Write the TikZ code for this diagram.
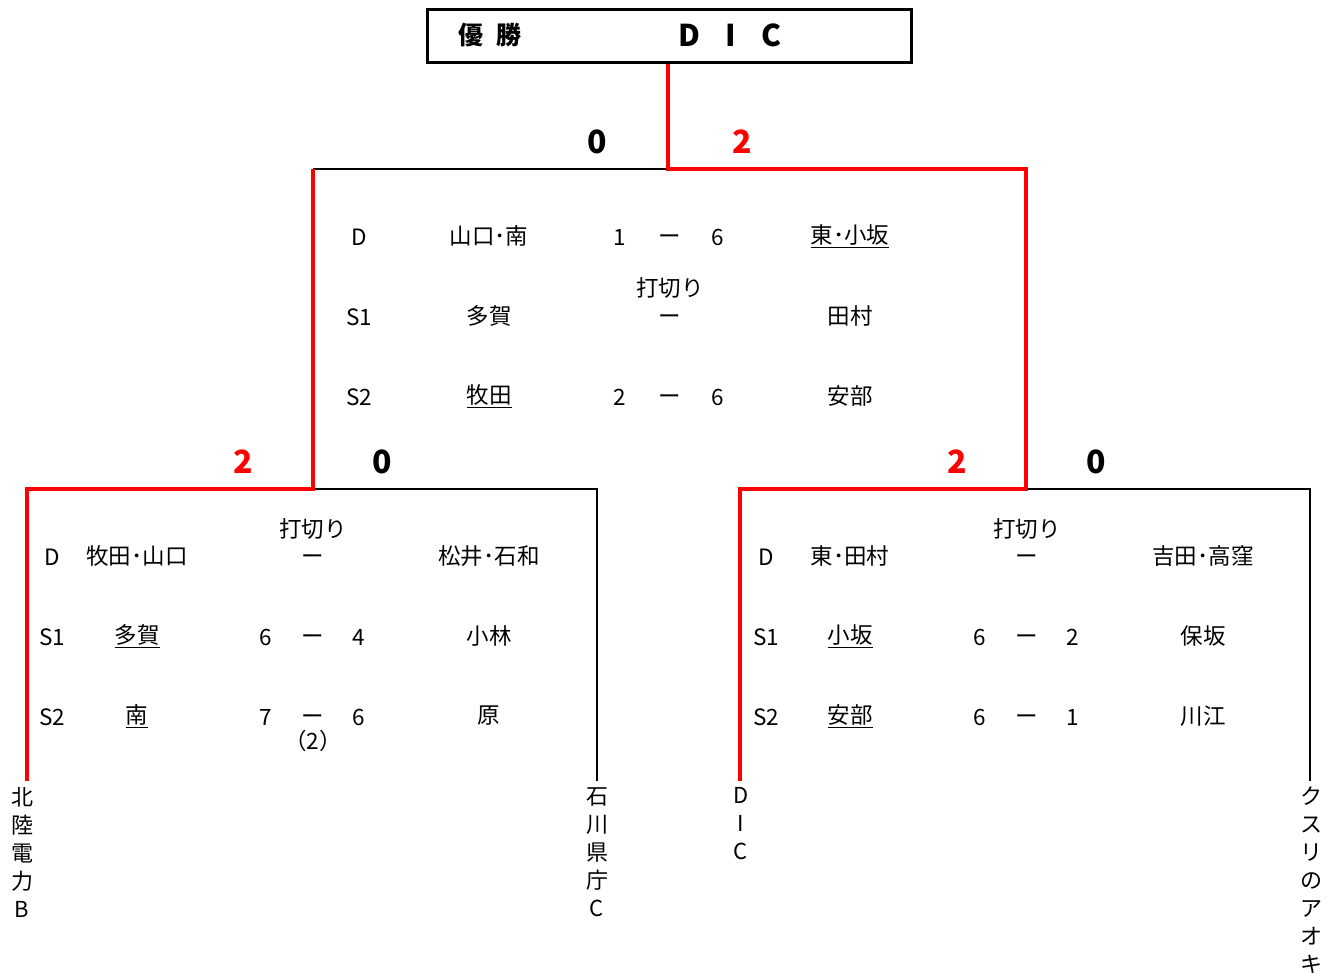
\documentclass[tikz,border=0pt]{standalone}
\usepackage{fontspec}
\setmainfont{Noto Sans CJK JP}
\begin{document}
\begin{tikzpicture}[x=1pt,y=-1pt,
	win/.style={red, line width=4pt},
	lose/.style={black, line width=1.3pt},
	nm/.style={font=\fontsize{22.5}{22.5}\selectfont, inner sep=0pt},
	bar/.style={nm, yshift=-4pt},
	sc/.style={font=\fontsize{32}{32}\selectfont\bfseries, inner sep=0pt},
	team/.style={font=\fontsize{22}{28}\selectfont, align=center, inner sep=0pt, anchor=north}]
	\useasboundingbox (0,0) rectangle (1341,977);

	% champion box
	\draw (669, 35.5) 	node[draw, line width=3pt, minimum width=484pt, minimum height=53pt, inner sep=0pt] 	(champ) 	{};
	\draw (490, 35) 	node[nm, font=\fontsize{25}{25}\selectfont\bfseries] 	(yusho) 	{優\hspace{0.5em}勝};
	\draw (730, 35) 	node[nm, font=\fontsize{30}{30}\selectfont\bfseries] 	(winner) 	{D\hspace{0.85em}I\hspace{0.85em}C};

	% bracket joints
	\coordinate (f) 	at (668, 169);
	\coordinate (fl) 	at (313, 169);
	\coordinate (fr) 	at (1026, 169);
	\coordinate (sl) 	at (313, 489);
	\coordinate (sla) 	at (27, 489);
	\coordinate (slb) 	at (597, 489);
	\coordinate (sr) 	at (1026, 489);
	\coordinate (sra) 	at (740, 489);
	\coordinate (srb) 	at (1310, 489);

	% teams
	\draw (22, 787) 	node[team] 	(hokuriku) 	{北\\陸\\電\\力\\B};
	\draw (597, 787) 	node[team] 	(ishikawa) 	{石\\川\\県\\庁\\C};
	\draw (741, 787) 	node[team] 	(dic) 		{D\\I\\C};
	\draw (1311, 787) 	node[team] 	(kusuri) 	{ク\\ス\\リ\\の\\ア\\オ\\キ};

	% lines
	\draw[lose] (fl) -- (f);
	\draw[lose] (sl) -- (slb) -- ([yshift=6pt]slb |- ishikawa.north);
	\draw[lose] (sr) -- (srb) -- ([yshift=6pt]srb |- kusuri.north);
	\draw[win] (champ.south -| f) -- (f) -- (fr) -- (sr) -- (sra) -- ([yshift=6pt]sra |- dic.north);
	\draw[win] (fl) -- (sl) -- (sla) -- ([yshift=6pt]sla |- hokuriku.north);

	% scores
	\draw (597, 142) 	node[sc] 		(fsa) 	{0};
	\draw (742, 142) 	node[sc, red] 	(fsb) 	{2};
	\draw (243, 462) 	node[sc, red] 	(lsa) 	{2};
	\draw (382, 462) 	node[sc] 		(lsb) 	{0};
	\draw (957, 462) 	node[sc, red] 	(rsa) 	{2};
	\draw (1096, 462) 	node[sc] 		(rsb) 	{0};

	% final
	\draw (359, 237) 	node[nm] 	(fd) 	{D};
	\draw (489, 236) 	node[nm] 	(fda) 	{山口･南};
	\draw (620, 237) 	node[nm] 	(fdx) 	{1};
	\draw (670, 236) 	node[bar] 	(fdm) 	{ー};
	\draw (718, 237) 	node[nm] 	(fdy) 	{6};
	\draw (850, 236) 	node[nm] 	(fdb) 	{\underline{東･小坂}};
	\draw (359, 317) 	node[nm] 	(fs1) 	{S1};
	\draw (489, 316) 	node[nm] 	(fs1a) 	{多賀};
	\draw (670, 288) 	node[nm] 	(fs1u) 	{打切り};
	\draw (670, 316) 	node[bar] 	(fs1m) 	{ー};
	\draw (850, 316) 	node[nm] 	(fs1b) 	{田村};
	\draw (359, 397) 	node[nm] 	(fs2) 	{S2};
	\draw (489, 396) 	node[nm] 	(fs2a) 	{\underline{牧田}};
	\draw (620, 397) 	node[nm] 	(fs2x) 	{2};
	\draw (670, 396) 	node[bar] 	(fs2m) 	{ー};
	\draw (718, 397) 	node[nm] 	(fs2y) 	{6};
	\draw (850, 396) 	node[nm] 	(fs2b) 	{安部};

	% left semifinal
	\draw (52, 557) 	node[nm] 	(ld) 	{D};
	\draw (137, 556) 	node[nm] 	(lda) 	{牧田･山口};
	\draw (313, 529) 	node[nm] 	(ldu) 	{打切り};
	\draw (313, 556) 	node[bar] 	(ldm) 	{ー};
	\draw (489, 556) 	node[nm] 	(ldb) 	{松井･石和};
	\draw (52, 637) 	node[nm] 	(ls1) 	{S1};
	\draw (137, 636) 	node[nm] 	(ls1a) 	{\underline{多賀}};
	\draw (266, 637) 	node[nm] 	(ls1x) 	{6};
	\draw (313, 636) 	node[bar] 	(ls1m) 	{ー};
	\draw (359, 637) 	node[nm] 	(ls1y) 	{4};
	\draw (489, 636) 	node[nm] 	(ls1b) 	{小林};
	\draw (52, 717) 	node[nm] 	(ls2) 	{S2};
	\draw (137, 716) 	node[nm] 	(ls2a) 	{\underline{南}};
	\draw (266, 717) 	node[nm] 	(ls2x) 	{7};
	\draw (313, 716) 	node[bar] 	(ls2m) 	{ー};
	\draw (359, 717) 	node[nm] 	(ls2y) 	{6};
	\draw (489, 716) 	node[nm] 	(ls2b) 	{原};
	\draw (313, 741) 	node[nm] 	(ls2t) 	{（2）};

	% right semifinal
	\draw (766, 557) 	node[nm] 	(rd) 	{D};
	\draw (850, 556) 	node[nm] 	(rda) 	{東･田村};
	\draw (1027, 529) 	node[nm] 	(rdu) 	{打切り};
	\draw (1027, 556) 	node[bar] 	(rdm) 	{ー};
	\draw (1203, 556) 	node[nm] 	(rdb) 	{吉田･高窪};
	\draw (766, 637) 	node[nm] 	(rs1) 	{S1};
	\draw (850, 636) 	node[nm] 	(rs1a) 	{\underline{小坂}};
	\draw (980, 637) 	node[nm] 	(rs1x) 	{6};
	\draw (1027, 636) 	node[bar] 	(rs1m) 	{ー};
	\draw (1073, 637) 	node[nm] 	(rs1y) 	{2};
	\draw (1203, 636) 	node[nm] 	(rs1b) 	{保坂};
	\draw (766, 717) 	node[nm] 	(rs2) 	{S2};
	\draw (850, 716) 	node[nm] 	(rs2a) 	{\underline{安部}};
	\draw (980, 717) 	node[nm] 	(rs2x) 	{6};
	\draw (1027, 716) 	node[bar] 	(rs2m) 	{ー};
	\draw (1073, 717) 	node[nm] 	(rs2y) 	{1};
	\draw (1203, 716) 	node[nm] 	(rs2b) 	{川江};
\end{tikzpicture}
\end{document}
